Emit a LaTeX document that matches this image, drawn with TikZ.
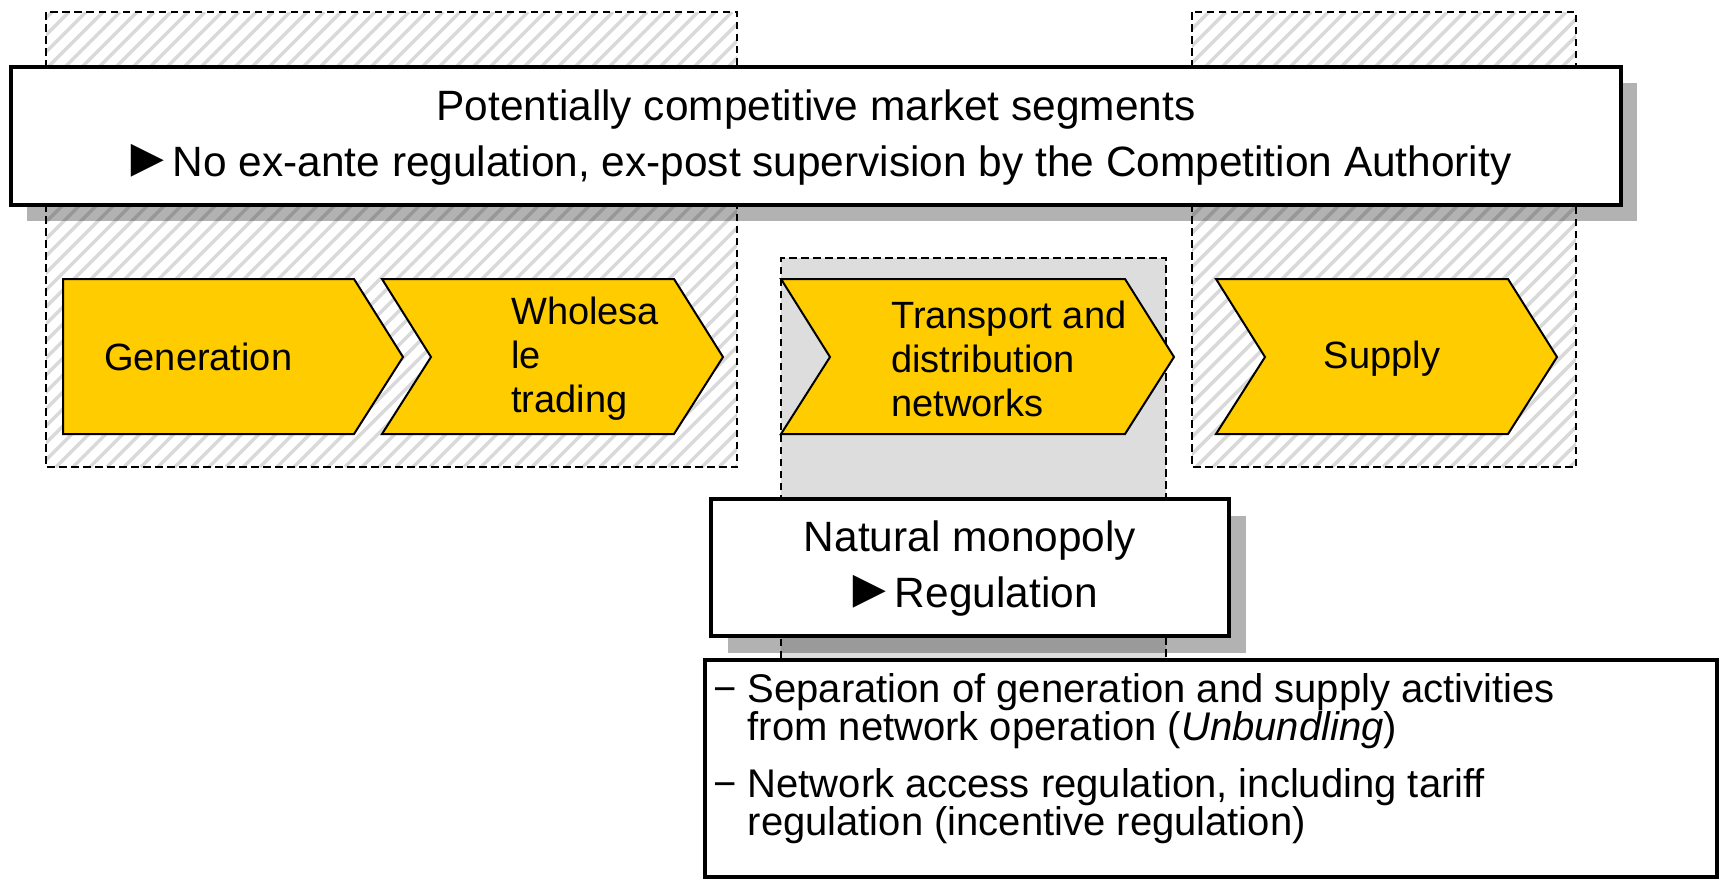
\documentclass[tikz,border=0pt]{standalone}
\usepackage{fontspec}
\setmainfont{Liberation Sans}
\definecolor{chevy}{HTML}{FFCC00}
\definecolor{hatchc}{HTML}{D9D9D9}
\definecolor{greyreg}{HTML}{DDDDDD}
\newcommand{\tripoint}{\scalebox{1.3}{►}\kern-2pt}
\begin{document}
\begin{tikzpicture}[x=1pt,y=-1pt,
  hatch/.style={draw=hatchc, line width=3.5pt},
  dashbox/.style={draw=black, line width=2.5pt, dash pattern=on 7.5pt off 4.5pt},
  chev/.style={fill=chevy, draw=black, line width=2pt, line join=miter},
  shade/.style={fill=black, fill opacity=0.3},
  framebox/.style={draw=black, line width=4.5pt, fill=white},
  bigtxt/.style={font=\fontsize{42.4}{56}\selectfont, align=center, inner sep=0pt},
  chevtxt/.style={font=\fontsize{38}{44}\selectfont, align=left, inner sep=0pt},
  listtxt/.style={font=\fontsize{40}{38}\selectfont, align=left, inner sep=0pt},
]
\useasboundingbox (0,0) rectangle (1720,879);
\fill[white] (0,0) rectangle (1720,879);

% hatched competitive regions
\begin{scope}
  \clip (46,12) rectangle (737,467);
  \foreach \i in {-420,-403,...,750} \draw[hatch] (\i,467) -- ++(455,-455);
\end{scope}
\begin{scope}
  \clip (1192,12) rectangle (1576,467);
  \foreach \i in {720,737,...,1590} \draw[hatch] (\i,467) -- ++(455,-455);
\end{scope}
\draw[dashbox] (46,12) rectangle (737,467);
\draw[dashbox] (1192,12) rectangle (1576,467);

% grey monopoly region
\fill[greyreg] (781,258) rectangle (1166,658);
\draw[dashbox] (781,658) -- (781,258) -- (1166,258) -- (1166,658);

% chevrons
\draw[chev] (63,279) -- (354,279) -- (403,357) -- (354,434) -- (63,434) -- cycle;
\draw[chev] (382,279) -- (674,279) -- (723,357) -- (674,434) -- (382,434) -- (431,357) -- cycle;
\draw[chev] (781,279) -- (1125,279) -- (1174,357) -- (1125,434) -- (781,434) -- (830,357) -- cycle;
\draw[chev] (1216,279) -- (1508,279) -- (1557,357) -- (1508,434) -- (1216,434) -- (1265,357) -- cycle;
\node[chevtxt, anchor=west] (gen) at (104,357) {Generation};
\node[chevtxt, anchor=west] (whole) at (511,359) {Wholesa\\le\\trading};
\node[chevtxt, anchor=west] (trans) at (891,359) {Transport and\\distribution\\networks};
\node[chevtxt] (supply) at (1382,359) {Supply};

% top box
\fill[shade] (27,83) rectangle (1637,221);
\draw[framebox] (11,67) rectangle (1621,205);
\node[bigtxt] (compet) at (816,138) {Potentially competitive market segments\\\tripoint No ex-ante regulation, ex-post supervision by the Competition Authority};

% monopoly box
\fill[shade] (728,516) rectangle (1246,653);
\draw[framebox] (711,499) rectangle (1229,636);
\node[bigtxt] (mono) at (970,569) {Natural monopoly\\\tripoint Regulation};

% bottom list box
\draw[framebox, line width=4pt] (705,660) rectangle (1717,877);
\node[listtxt, anchor=north west] (list) at (713,673) {− Separation of generation and supply activities\\\phantom{− }from network operation (\textit{Unbundling})\\[19pt]− Network access regulation, including tariff\\\phantom{− }regulation (incentive regulation)};
\end{tikzpicture}
\end{document}
